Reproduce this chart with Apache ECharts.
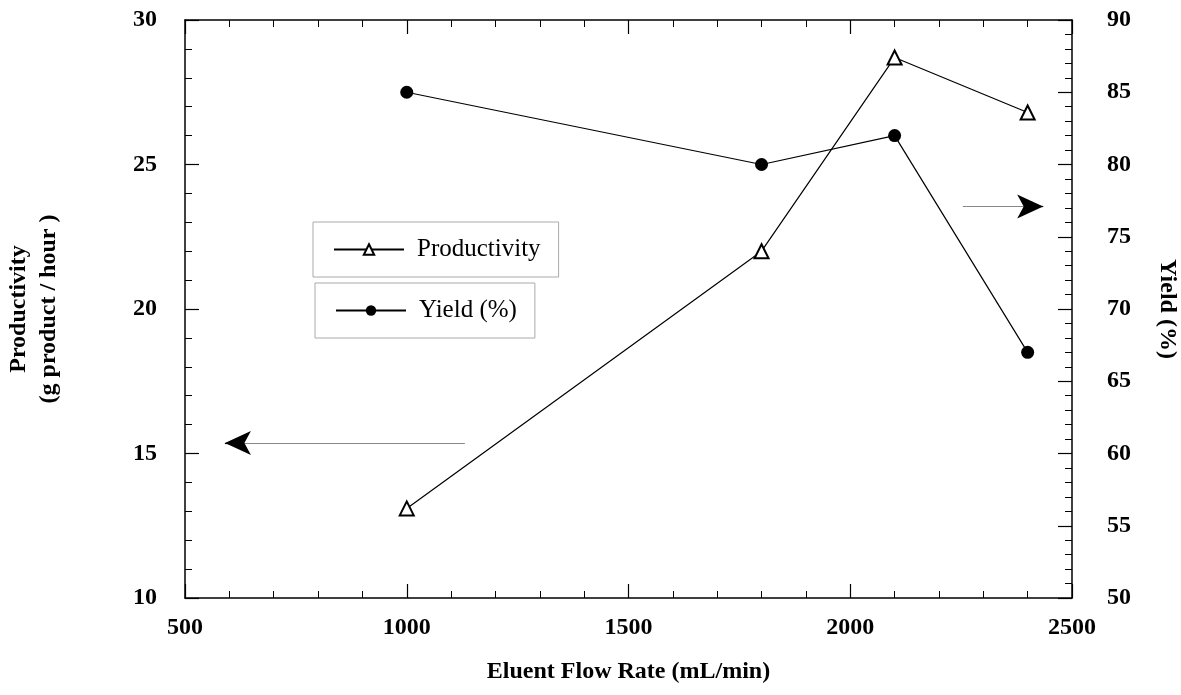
<!DOCTYPE html>
<html>
<head>
<meta charset="utf-8">
<script src="https://cdn.jsdelivr.net/npm/echarts@6/dist/echarts.min.js"></script>
<style>
  html, body { margin: 0; padding: 0; background: #fff; }
  #main { width: 1181px; height: 695px; }
</style>
</head>
<body>
<div id="main"></div>
<script>
var flowRate = [1000, 1800, 2100, 2400];
var productivity = [13.1, 22.0, 28.7, 26.8];
var yieldPct = [85.0, 80.0, 82.0, 67.0];
// annotation arrows (data coords): [x from, x tip, y]
var leftArrow = [1131, 590, 15.36];
var rightArrow = [2254, 2435, 77.1];

var chartDom = document.getElementById('main');
var c = echarts.init(chartDom);
var font = 'Liberation Serif';

var plain = function (v) { return String(v); };

var axisCommon = {
  axisLine: { show: true, lineStyle: { color: '#000', width: 1.5 } },
  axisTick: { show: true, inside: true, length: 14, lineStyle: { color: '#000', width: 1.2 } },
  minorTick: { show: true, splitNumber: 5, length: 7, lineStyle: { color: '#000', width: 1 } },
  splitLine: { show: false },
  axisLabel: { fontFamily: font, fontWeight: 'bold', fontSize: 24, color: '#000', formatter: plain },
  nameTextStyle: { fontFamily: font, fontWeight: 'bold', fontSize: 24, color: '#000' }
};

// gray shaft + short black segment carrying the arrow head
function arrow(a) {
  var dir = a[1] > a[0] ? -1 : 1;
  return [
    [{ coord: [a[0], a[2]], symbol: 'none' },
     { coord: [a[1], a[2]], symbol: 'none' }],
    [{ coord: [a[1] + dir * 10, a[2]], symbol: 'none', lineStyle: { color: '#000' } },
     { coord: [a[1], a[2]], symbol: 'arrow', symbolSize: [18, 26], lineStyle: { color: '#000' } }]
  ];
}

function legendBox(name, left, top, pad) {
  return {
    data: [name],
    left: left, top: top,
    padding: pad,
    borderColor: '#aaa', borderWidth: 1,
    itemWidth: 70, itemHeight: 13,
    textStyle: { fontFamily: font, fontSize: 25, color: '#000', padding: [0, 0, 0, 8] }
  };
}

var option = {
  animation: false,
  backgroundColor: '#fff',
  grid: { left: 185, right: 109, top: 20, bottom: 97, containLabel: false, outerBoundsMode: 'none' },
  legend: [
    legendBox('Productivity', 313, 222, [15, 18, 15, 20]),
    legendBox('Yield (%)', 315, 283, [15, 18, 15, 20])
  ],
  xAxis: [
    Object.assign({}, axisCommon, {
      type: 'value', min: 500, max: 2500, interval: 500,
      name: 'Eluent Flow Rate (mL/min)', nameLocation: 'middle', nameGap: 62,
      axisLabel: Object.assign({}, axisCommon.axisLabel, { margin: 18 })
    }),
    Object.assign({}, axisCommon, {
      type: 'value', min: 500, max: 2500, interval: 500, position: 'top',
      axisLabel: { show: false }
    })
  ],
  yAxis: [
    Object.assign({}, axisCommon, {
      type: 'value', min: 10, max: 30, interval: 5, position: 'left',
      name: 'Productivity\n(g product / hour )', nameLocation: 'middle', nameGap: 121, nameRotate: 90,
      nameTextStyle: Object.assign({}, axisCommon.nameTextStyle, { lineHeight: 30 }),
      axisLabel: Object.assign({}, axisCommon.axisLabel, { margin: 28 })
    }),
    Object.assign({}, axisCommon, {
      type: 'value', min: 50, max: 90, interval: 5, position: 'right',
      name: 'Yield (%)', nameLocation: 'middle', nameGap: 83, nameRotate: -90,
      axisLabel: Object.assign({}, axisCommon.axisLabel, { margin: 35 })
    })
  ],
  series: [
    {
      name: 'Productivity',
      type: 'line',
      xAxisIndex: 0, yAxisIndex: 0,
      data: flowRate.map(function (x, i) { return [x, productivity[i]]; }),
      symbol: 'emptyTriangle', symbolSize: 14,
      itemStyle: { color: '#000', borderColor: '#000', borderWidth: 1.2 },
      lineStyle: { color: '#000', width: 1.2 },
      markLine: {
        silent: true,
        label: { show: false },
        lineStyle: { color: '#888', width: 1.2, type: 'solid' },
        data: arrow(leftArrow)
      }
    },
    {
      name: 'Yield (%)',
      type: 'line',
      xAxisIndex: 0, yAxisIndex: 1,
      data: flowRate.map(function (x, i) { return [x, yieldPct[i]]; }),
      symbol: 'circle', symbolSize: 13,
      itemStyle: { color: '#000' },
      lineStyle: { color: '#000', width: 1.2 },
      markLine: {
        silent: true,
        label: { show: false },
        lineStyle: { color: '#888', width: 1.2, type: 'solid' },
        data: arrow(rightArrow)
      }
    }
  ]
};

c.setOption(option);
</script>
</body>
</html>
